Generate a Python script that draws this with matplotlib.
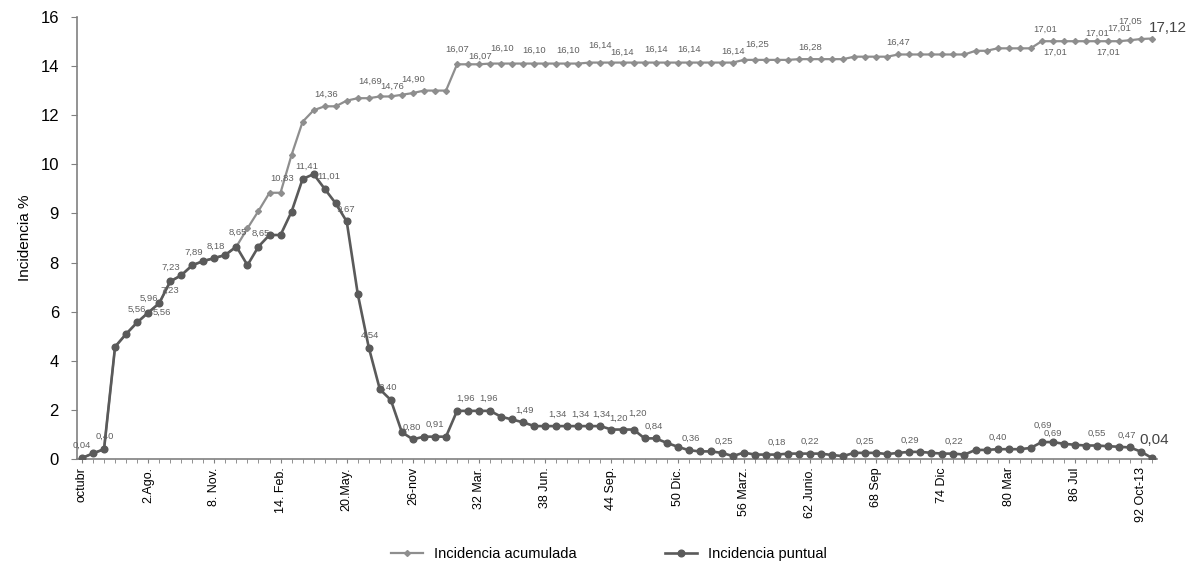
import matplotlib
matplotlib.use("Agg")
import matplotlib.pyplot as plt
import numpy as np

plt.rcParams['font.family'] = ['Liberation Sans', 'DejaVu Sans']

# ---- datos ----
puntual = [0.04, 0.23, 0.40, 4.57, 5.09, 5.56, 5.96, 6.34, 7.23, 7.48,
           7.89, 8.06, 8.18, 8.31, 8.65, 7.89, 8.65, 9.12, 9.12, 10.07,
           11.40, 11.60, 11.00, 10.41, 9.67, 6.72, 4.54, 2.84, 2.40, 1.09,
           0.80, 0.91, 0.91, 0.91, 1.96, 1.96, 1.96, 1.96, 1.72, 1.61,
           1.49, 1.34, 1.34, 1.34, 1.34, 1.34, 1.34, 1.34, 1.20, 1.20,
           1.20, 0.84, 0.84, 0.66, 0.50, 0.36, 0.31, 0.31, 0.25, 0.12,
           0.26, 0.18, 0.18, 0.18, 0.22, 0.22, 0.22, 0.22, 0.16, 0.12,
           0.25, 0.25, 0.25, 0.20, 0.25, 0.29, 0.29, 0.25, 0.22, 0.22,
           0.18, 0.37, 0.37, 0.40, 0.40, 0.40, 0.45, 0.69, 0.69, 0.62,
           0.58, 0.55, 0.55, 0.52, 0.50, 0.47, 0.30, 0.04]

acumulada = (puntual[:15] +
             [9.39, 10.10, 10.84, 10.84, 12.38, 13.73, 14.20, 14.36, 14.36, 14.59,
              14.69, 14.69, 14.76, 14.76, 14.83, 14.90, 15.00, 15.00, 15.00] +
             [16.07] * 3 + [16.10] * 9 + [16.14] * 14 + [16.25] * 5 + [16.28] * 5 +
             [16.38] * 4 + [16.47] * 7 + [16.62] * 2 + [16.72] * 4 + [17.01] * 8 +
             [17.05, 17.10, 17.12])

tick_labels = ["octubr", "2.Ago.", "8. Nov.", "14. Feb.", "20.May.", "26-nov",
               "32 Mar.", "38 Jun.", "44 Sep.", "50 Dic.", "56 Marz.", "62 Junio.",
               "68 Sep", "74 Dic", "80 Mar", "86 Jul", "92 Oct-13"]
ytick_labels = ["0", "2", "4", "6", "8", "9", "10", "12", "14", "16"]

# etiquetas de datos (indice, texto)
lab_punt_idx = [0, 2, 5, 6, 7, 8, 10, 12, 14, 16, 21, 22, 24, 26, 28, 30, 32, 35, 37,
                40, 43, 45, 47, 49, 50, 52, 55, 58, 63, 66, 71, 75, 79, 83, 87, 88,
                92, 95]
lab_punt_txt = ["0,04", "0,40", "5,56", "5,96", "5,56", "7,23", "7,89", "8,18", "8,65",
                "8,65", "11,41", "11,01", "9,67", "4,54", "2,40", "0,80", "0,91", "1,96",
                "1,96", "1,49", "1,34", "1,34", "1,34", "1,20", "1,20", "0,84", "0,36",
                "0,25", "0,18", "0,22", "0,25", "0,29", "0,22", "0,40", "0,69", "0,69",
                "0,55", "0,47"]
lab_acum_idx = [8, 18, 22, 26, 28, 30, 34, 36, 38, 41, 44, 47, 49, 52, 55, 59, 61, 66,
                74, 87, 88, 92, 93, 94, 95]
lab_acum_txt = ["7,23", "10,83", "14,36", "14,69", "14,76", "14,90", "16,07", "16,07",
                "16,10", "16,10", "16,10", "16,14", "16,14", "16,14", "16,14", "16,14",
                "16,25", "16,28", "16,47", "17,01", "17,01", "17,01", "17,01", "17,01",
                "17,05"]

# desplazamientos (pixeles) de las etiquetas
off_punt = [(0, 13), (1, 13), (0, 13), (1, 14), (3, -9), (1, 14), (1, 13), (1, 12),
            (1, 14), (2, 13), (-7, 8), (4, 13), (-1, 12), (1, 12), (-3, 13), (-1, 12),
            (0, 12), (-3, 13), (-2, 13), (1, 12), (1, 12), (2, 12), (1, 12), (-4, 11),
            (4, 16), (-2, 12), (2, 12), (2, 12), (0, 12), (0, 12), (0, 12), (1, 12),
            (0, 12), (0, 12), (1, 17), (0, 9), (0, 12), (-3, 12)]
off_acum = [(0, -9), (2, 14), (1, 12), (1, 17), (1, 10), (0, 14), (0, 15), (1, 8),
            (1, 15), (0, 13), (1, 13), (0, 17), (0, 10), (0, 13), (0, 13), (0, 11),
            (2, 16), (0, 12), (0, 12), (3, 12), (2, -11), (0, 8), (0, -11), (0, 13),
            (0, 19)]

x = np.arange(len(puntual))
c_acum = '#8e8e8e'
c_punt = '#5a5a5a'
c_lab = '#606060'

fig = plt.figure(figsize=(11.94, 5.69), dpi=100)
ax = fig.add_axes([0.0645, 0.1933, 0.9045, 0.777])

ax.plot(x, acumulada, color=c_acum, lw=1.6, marker='D', ms=3, zorder=2,
        label='Incidencia acumulada')
ax.plot(x, puntual, color=c_punt, lw=1.9, marker='o', ms=4.8, zorder=3,
        label='Incidencia puntual')

for i, t, o in zip(lab_punt_idx, lab_punt_txt, off_punt):
    ax.annotate(t, (x[i], puntual[i]), xytext=o, textcoords='offset pixels',
                ha='center', va='center', fontsize=6.8, color=c_lab, zorder=4)
for i, t, o in zip(lab_acum_idx, lab_acum_txt, off_acum):
    ax.annotate(t, (x[i], acumulada[i]), xytext=o, textcoords='offset pixels',
                ha='center', va='center', fontsize=6.8, color=c_lab, zorder=4)

# ultimos valores mas grandes
ax.annotate("17,12", (x[-1], acumulada[-1]), xytext=(16, 11), textcoords='offset pixels',
            ha='center', va='center', fontsize=11, color='#444444')
ax.annotate("0,04", (x[-1], puntual[-1]), xytext=(2, 18), textcoords='offset pixels',
            ha='center', va='center', fontsize=11, color='#444444')

ax.set_xlim(-0.45, 97.45)
ax.set_ylim(0, 18)
ax.set_yticks(np.arange(0, 19, 2))
ax.set_yticklabels(ytick_labels, fontsize=12)
ax.set_xticks(np.arange(0, 97, 6))
ax.set_xticklabels(tick_labels, rotation=90, fontsize=9)
ax.set_xticks(x, minor=True)
ax.tick_params(axis='x', which='both', direction='out', length=3, color='#808080', pad=3)
ax.tick_params(axis='y', direction='out', length=4, color='#808080', pad=9)
ax.set_ylabel("Incidencia %", fontsize=11, labelpad=6)

for s in ['top', 'right']:
    ax.spines[s].set_visible(False)
for s in ['left', 'bottom']:
    ax.spines[s].set_color('#808080')
    ax.spines[s].set_linewidth(1.2)

fig.legend(loc='center', bbox_to_anchor=(0.51, 0.027), ncol=2, frameon=False,
           fontsize=10.5, columnspacing=6, handlelength=2.2)

fig.savefig('out.png', dpi=100)
